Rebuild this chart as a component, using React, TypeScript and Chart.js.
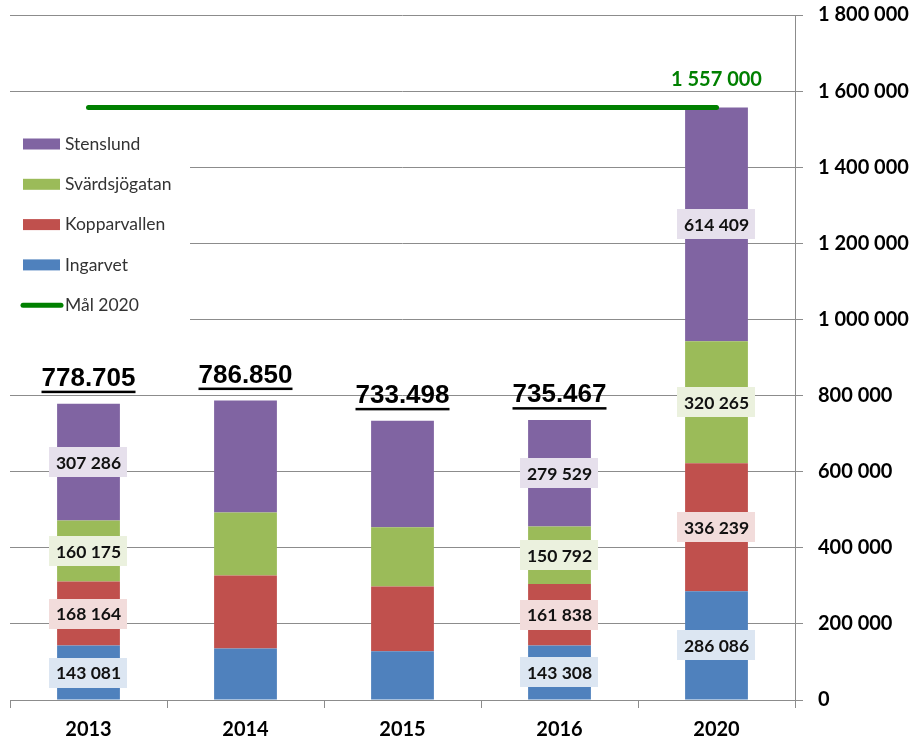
import React, { useEffect, useRef } from "react";
import { Chart, registerables } from "chart.js";
Chart.register(...registerables);

const categories = ["2013", "2014", "2015", "2016", "2020"];
const seriesNames = ["Ingarvet", "Kopparvallen", "Svärdsjögatan", "Stenslund"];
const ingarvet = [143081, 135300, 128200, 143308, 286086];
const kopparvallen = [168164, 191900, 170000, 161838, 336239];
const svardsjogatan = [160175, 165800, 155900, 150792, 320265];
const stenslund = [307286, 293850, 279398, 279529, 614409];
const goalName = "Mål 2020";
const goal2020 = [1557000, 1557000, 1557000, 1557000, 1557000];
const goalLabel = "1 557 000";
const totalLabels = ["778.705", "786.850", "733.498", "735.467", ""];
const labeledCategories = ["2013", "2016", "2020"];
const yMin = 0;
const yMax = 1800000;
const yStep = 200000;

const barColors = ["#4F81BD", "#C0504D", "#9BBB59", "#8064A2"];
const labelBg = ["#DCE6F2", "#F2DCDB", "#EBF1DE", "#E6E0EC"];
const goalColor = "#008000";
const gridColor = "#8c8c8c";

const fmt = (v: number) => String(Math.round(v)).replace(/\B(?=(\d{3})+(?!\d))/g, " ");

const overlayPlugin = {
  id: "overlay",
  beforeDatasetsDraw(chart: any) {
    const ctx = chart.ctx;
    ctx.save();
    ctx.fillStyle = "#ffffff";
    ctx.fillRect(chart.chartArea.left, 118, 180, 206);
    ctx.restore();
  },
  afterDatasetsDraw(chart: any) {
    const ctx = chart.ctx;
    ctx.save();
    // data labels
    ctx.font = "bold 17.5px Lato";
    ctx.textAlign = "center";
    ctx.textBaseline = "middle";
    for (let d = 0; d < 4; d++) {
      const meta = chart.getDatasetMeta(d);
      categories.forEach((c, i) => {
        if (!labeledCategories.includes(c)) return;
        const el = meta.data[i];
        const p = el.getProps(["x", "y", "base"], true);
        const cy = (p.y + p.base) / 2;
        const txt = fmt(chart.data.datasets[d].data[i]);
        const w = ctx.measureText(txt).width + 13;
        ctx.fillStyle = labelBg[d];
        ctx.fillRect(Math.round(p.x - w / 2), Math.round(cy - 15), Math.round(w), 30);
        ctx.fillStyle = "#111";
        ctx.fillText(txt, p.x, cy + 1);
      });
    }
    // totals
    const topMeta = chart.getDatasetMeta(3);
    ctx.font = "bold 26px 'Liberation Sans'";
    ctx.fillStyle = "#000";
    totalLabels.forEach((t, i) => {
      if (!t) return;
      const el = topMeta.data[i];
      const x = el.x;
      const y = el.y - 25;
      ctx.fillText(t, x, y);
      const w = ctx.measureText(t).width;
      ctx.fillRect(x - w / 2, y + 12, w, 2.5);
    });
    // goal label
    const gMeta = chart.getDatasetMeta(4);
    const last = gMeta.data[gMeta.data.length - 1];
    ctx.font = "bold 20px Lato";
    ctx.fillStyle = goalColor;
    ctx.fillText(goalLabel, last.x, last.y - 28);
    // legend
    ctx.textAlign = "left";
    ctx.font = "17.5px Lato";
    const yStart = 144;
    const gap = 40.3;
    const order = [3, 2, 1, 0];
    order.forEach((d, k) => {
      const y = yStart + k * gap;
      ctx.fillStyle = barColors[d];
      ctx.fillRect(23, y - 5.5, 37, 11);
      ctx.fillStyle = "#333";
      ctx.fillText(chart.data.datasets[d].label, 65, y);
    });
    const ly = yStart + 4 * gap;
    ctx.strokeStyle = goalColor;
    ctx.lineWidth = 5;
    ctx.lineCap = "round";
    ctx.beginPath();
    ctx.moveTo(23, ly);
    ctx.lineTo(61, ly);
    ctx.stroke();
    ctx.fillStyle = "#333";
    ctx.fillText(goalName, 65, ly);
    ctx.restore();
  },
};

export default function App() {
  const ref = useRef<HTMLCanvasElement>(null);
  useEffect(() => {
    if (!ref.current) return;
    const seriesData = [ingarvet, kopparvallen, svardsjogatan, stenslund];
    const chart = new Chart(ref.current, {
      type: "bar",
      data: {
        labels: categories,
        datasets: [
          ...seriesData.map((d, i) => ({
            type: "bar" as const,
            label: seriesNames[i],
            data: d,
            backgroundColor: barColors[i],
            stack: "s",
            barPercentage: 0.4,
            categoryPercentage: 1,
            order: 1,
          })),
          {
            type: "line" as const,
            label: goalName,
            data: goal2020,
            borderColor: goalColor,
            borderWidth: 5,
            borderCapStyle: "round",
            pointRadius: 0,
            fill: false,
            stack: "goal",
            order: 0,
          },
        ],
      } as any,
      options: {
        responsive: false,
        animation: false,
        layout: { padding: { left: 10, top: 15, right: 0, bottom: 0 } },
        plugins: { legend: { display: false }, tooltip: { enabled: false } },
        scales: {
          x: {
            stacked: true,
            grid: { drawOnChartArea: false, offset: true, tickLength: 8, color: gridColor },
            border: { color: gridColor },
            ticks: { font: { family: "Lato", size: 20, weight: "bold" }, color: "#000", padding: 10 },
            afterFit: (s: any) => { s.height = 40; s.paddingLeft = 0; s.paddingRight = 0; },
          },
          y: {
            position: "right",
            stacked: true,
            min: yMin,
            max: yMax,
            ticks: {
              stepSize: yStep,
              callback: (v: any) => fmt(Number(v)),
              font: { family: "Lato", size: 20, weight: "bold" },
              color: "#000",
              padding: 15,
            },
            grid: { color: gridColor, tickLength: 8 },
            border: { color: gridColor },
            afterFit: (s: any) => { s.width = 117; s.paddingTop = 0; s.paddingBottom = 0; },
          },
        },
      } as any,
      plugins: [overlayPlugin],
    });
    return () => chart.destroy();
  }, []);
  return (
    <div style={{ position: "absolute", left: 0, top: 0, width: 912, height: 740, background: "#fff" }}>
      <canvas ref={ref} width={912} height={740} style={{ display: "block" }} />
    </div>
  );
}
